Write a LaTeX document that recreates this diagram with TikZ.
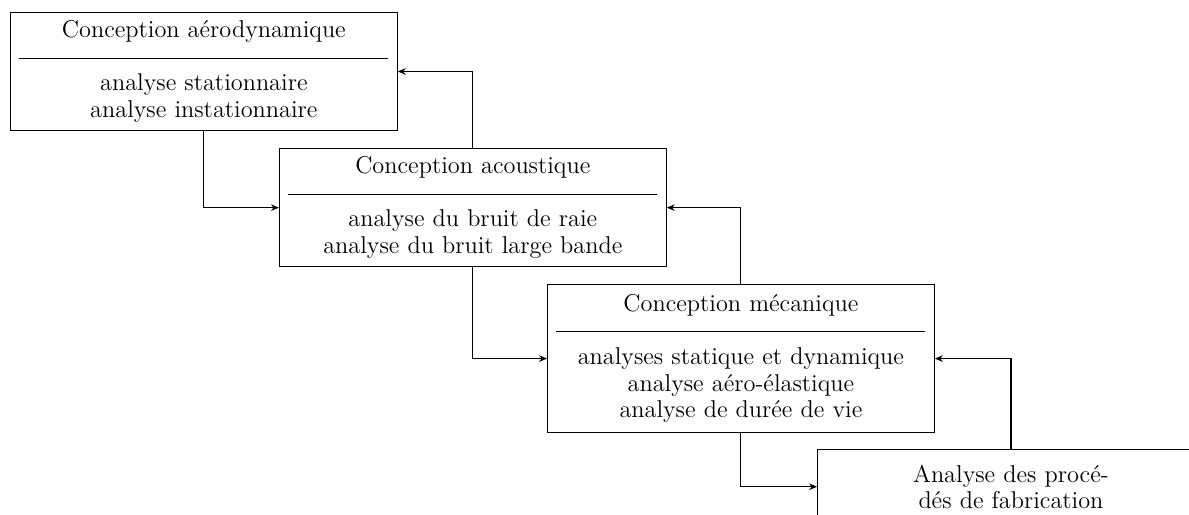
\documentclass[tikz,border=0pt]{standalone}
\usetikzlibrary{arrows.meta}
\begin{document}
\begin{tikzpicture}[x=1pt,y=1pt,
  boxstyle/.style={draw, line width=0.5pt, anchor=north west, text width=167pt, align=center,
    inner xsep=4pt, inner ysep=3.7pt, font=\fontsize{11}{12}\selectfont},
  conn/.style={line width=0.5pt, -{Stealth[length=3.6pt,width=3pt]}}]
\useasboundingbox (0,0) rectangle (538,-233);
\newcommand{\boxrule}{\rule[2.6pt]{\linewidth}{0.4pt}}
\node[boxstyle] (aero) at (4.5,-5.4) {Conception aérodynamique\\\boxrule\\analyse stationnaire\\analyse instationnaire};
\node[boxstyle] (acou) at (126.2,-67.0) {Conception acoustique\\\boxrule\\analyse du bruit de raie\\analyse du bruit large bande};
\node[boxstyle, inner ysep=4.5pt] (meca) at (247.5,-128.5) {Conception mécanique\\\boxrule\\analyses statique et dynamique\\analyse aéro-élastique\\analyse de durée de vie};
\node[boxstyle, inner ysep=6.8pt] (fab) at (369.7,-203.2) {Analyse des procé-\\dés de fabrication};
\draw[conn] (aero.south) |- (acou.west);
\draw[conn] (acou.north) |- (aero.east);
\draw[conn] (acou.south) |- (meca.west);
\draw[conn] (meca.north) |- (acou.east);
\draw[conn] (meca.south) |- (fab.west);
\draw[conn] (fab.north) |- (meca.east);
\end{tikzpicture}
\end{document}
